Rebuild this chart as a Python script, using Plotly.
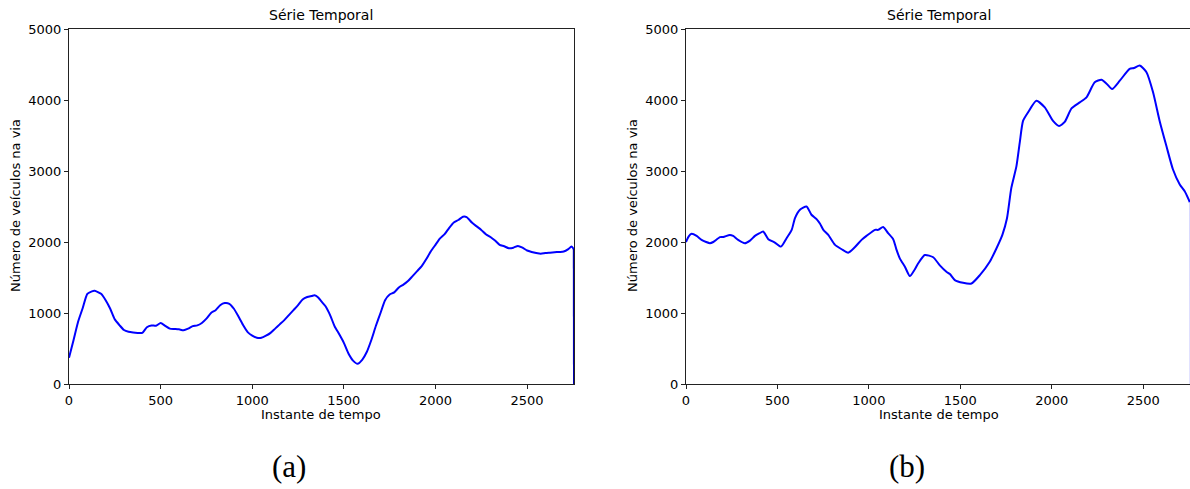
import plotly.graph_objects as go

# Series (a)
t_a = [0, 25, 50, 75, 100, 125, 140, 175, 200, 225, 250, 275, 300, 325, 350, 375, 400, 425, 450, 475,
       500, 525, 550, 575, 600, 625, 650, 675, 700, 725, 750, 775, 800, 825, 850, 875, 900, 925, 950, 975,
       1000, 1025, 1050, 1075, 1100, 1125, 1150, 1175, 1200, 1225, 1250, 1275, 1300, 1325, 1340, 1360, 1375,
       1400, 1425, 1450, 1475, 1500, 1525, 1550, 1575, 1600, 1625, 1650, 1675, 1700, 1725, 1750, 1775, 1800,
       1825, 1850, 1875, 1900, 1925, 1950, 1975, 2000, 2025, 2050, 2075, 2100, 2125, 2150, 2170, 2200, 2225,
       2250, 2275, 2300, 2325, 2350, 2375, 2400, 2425, 2450, 2475, 2500, 2525, 2550, 2575, 2600, 2625, 2650,
       2675, 2700, 2725, 2742, 2755]
v_a = [370, 620, 880, 1070, 1270, 1305, 1312, 1270, 1180, 1060, 910, 830, 760, 735, 725, 720, 720, 800, 825, 820,
       858, 820, 780, 775, 770, 758, 780, 815, 825, 860, 920, 1000, 1040, 1110, 1140, 1130, 1060, 950, 830, 730,
       680, 650, 650, 680, 720, 780, 840, 900, 970, 1040, 1110, 1190, 1225, 1240, 1250, 1220, 1170,
       1095, 970, 810, 700, 580, 430, 330, 285, 340, 450, 620, 820, 1000, 1180, 1260, 1290, 1360,
       1400, 1450, 1520, 1590, 1660, 1760, 1870, 1960, 2050, 2110, 2200, 2275, 2310, 2355, 2350, 2270, 2220,
       2170, 2110, 2070, 2020, 1960, 1940, 1912, 1920, 1945, 1920, 1880, 1860, 1845, 1835, 1845, 1850, 1855,
       1860, 1865, 1900, 1935, 1900]
end_t_a = [2755, 2756]
end_v_a = [1900, 0]

# Series (b)
t_b = [0, 15, 31, 58, 85, 110, 131, 149, 186, 204, 240, 258, 285, 322, 350, 377, 400, 422, 450, 486, 519,
       550, 578, 596, 623, 659, 686, 714, 733, 751, 778, 815, 851, 887, 923, 960, 987, 1033, 1051, 1078, 1105,
       1133, 1150, 1169, 1197, 1224, 1250, 1270, 1306, 1352, 1388, 1424, 1443, 1470, 1515, 1561, 1607, 1661,
       1698, 1730, 1755, 1779, 1807, 1825, 1843, 1870, 1916, 1962, 2007, 2040, 2071, 2108, 2153, 2190, 2235,
       2272, 2300, 2330, 2372, 2426, 2450, 2481, 2518, 2554, 2590, 2627, 2663, 2700, 2727, 2749, 2755]
v_b = [2000, 2080, 2115, 2085, 2030, 2000, 1983, 2000, 2068, 2070, 2100, 2085, 2030, 1983, 2020, 2086, 2120,
       2147, 2040, 1992, 1935, 2054, 2171, 2337, 2455, 2500, 2384, 2323, 2257, 2171, 2100, 1959, 1898, 1850,
       1926, 2030, 2086, 2171, 2171, 2210, 2125, 2040, 1900, 1770, 1652, 1520, 1610, 1700, 1817, 1785, 1670,
       1581, 1548, 1463, 1425, 1416, 1534, 1722, 1912, 2100, 2330, 2762, 3068, 3400, 3705, 3824, 3989, 3895,
       3705, 3634, 3691, 3881, 3966, 4037, 4249, 4286, 4230, 4155, 4272, 4438, 4450, 4485, 4391, 4108, 3705,
       3351, 3021, 2809, 2714, 2596, 2560]
end_t_b = [2755, 2756]
end_v_b = [2560, 0]

x_ticks = [0, 500, 1000, 1500, 2000, 2500]
y_ticks = [0, 1000, 2000, 3000, 4000, 5000]
title_text = "Série Temporal"
x_label = "Instante de tempo"
y_label = "Número de veículos na via"
panel_labels = ["(a)", "(b)"]

W, H = 1190, 489
L, R, T, B = 69, 0, 29, 105
pw = W - L - R
ph = H - T - B

def px(xpix):
    return (xpix - L) / pw

def py(ypix):
    return (H - B - ypix) / ph

dom_a = [0, px(574)]
dom_b = [px(686), 1]

fig = go.Figure()
line = dict(color="#0000ff", width=2)
fig.add_trace(go.Scatter(x=t_a, y=v_a, mode="lines", line=dict(shape="spline", smoothing=0.6, **line),
                         xaxis="x", yaxis="y", showlegend=False))
fig.add_trace(go.Scatter(x=end_t_a, y=end_v_a, mode="lines", line=dict(color="#0000b0", width=2),
                         xaxis="x", yaxis="y", showlegend=False))
fig.add_trace(go.Scatter(x=t_b, y=v_b, mode="lines", line=dict(shape="spline", smoothing=0.6, **line),
                         xaxis="x2", yaxis="y2", showlegend=False))
fig.add_trace(go.Scatter(x=end_t_b, y=end_v_b, mode="lines", line=dict(color="#c8c8ff", width=1),
                         xaxis="x2", yaxis="y2", showlegend=False))

axis_common = dict(showgrid=False, zeroline=False, showline=True, linecolor="#222", linewidth=1,
                   ticks="outside", ticklen=4, tickwidth=1, tickcolor="#222",
                   tickfont=dict(family="DejaVu Sans", size=13, color="#000"))

fig.update_layout(
    width=W, height=H,
    margin=dict(l=L, r=R, t=T, b=B, pad=0),
    paper_bgcolor="white", plot_bgcolor="white",
    xaxis=dict(domain=dom_a, range=[0, 2756], tickvals=x_ticks, mirror=True, anchor="y", **axis_common),
    yaxis=dict(domain=[0, 1], range=[0, 5000], tickvals=y_ticks, mirror=True, anchor="x", **axis_common),
    xaxis2=dict(domain=dom_b, range=[0, 2756], tickvals=x_ticks, mirror=True, anchor="y2", **axis_common),
    yaxis2=dict(domain=[0, 1], range=[0, 5000], tickvals=y_ticks, mirror=False, anchor="x2", **axis_common),
)

ann = []
for cx, ylx, lab, labx in [(321, 15, panel_labels[0], 289), (939, 632, panel_labels[1], 907)]:
    ann.append(dict(text=title_text, x=px(cx), y=py(15), xref="paper", yref="paper", showarrow=False,
                    xanchor="center", yanchor="middle", font=dict(family="DejaVu Sans", size=14, color="#000")))
    ann.append(dict(text=x_label, x=px(cx), y=py(415), xref="paper", yref="paper", showarrow=False,
                    xanchor="center", yanchor="middle", font=dict(family="DejaVu Sans", size=13, color="#000")))
    ann.append(dict(text=y_label, x=px(ylx), y=py(206), xref="paper", yref="paper", showarrow=False,
                    textangle=-90, xanchor="center", yanchor="middle",
                    font=dict(family="DejaVu Sans", size=13, color="#000")))
    ann.append(dict(text=lab, x=px(labx), y=py(467), xref="paper", yref="paper", showarrow=False,
                    xanchor="center", yanchor="middle", font=dict(family="Liberation Serif", size=31, color="#000")))
fig.update_layout(annotations=ann)

fig.write_html("out.html")
